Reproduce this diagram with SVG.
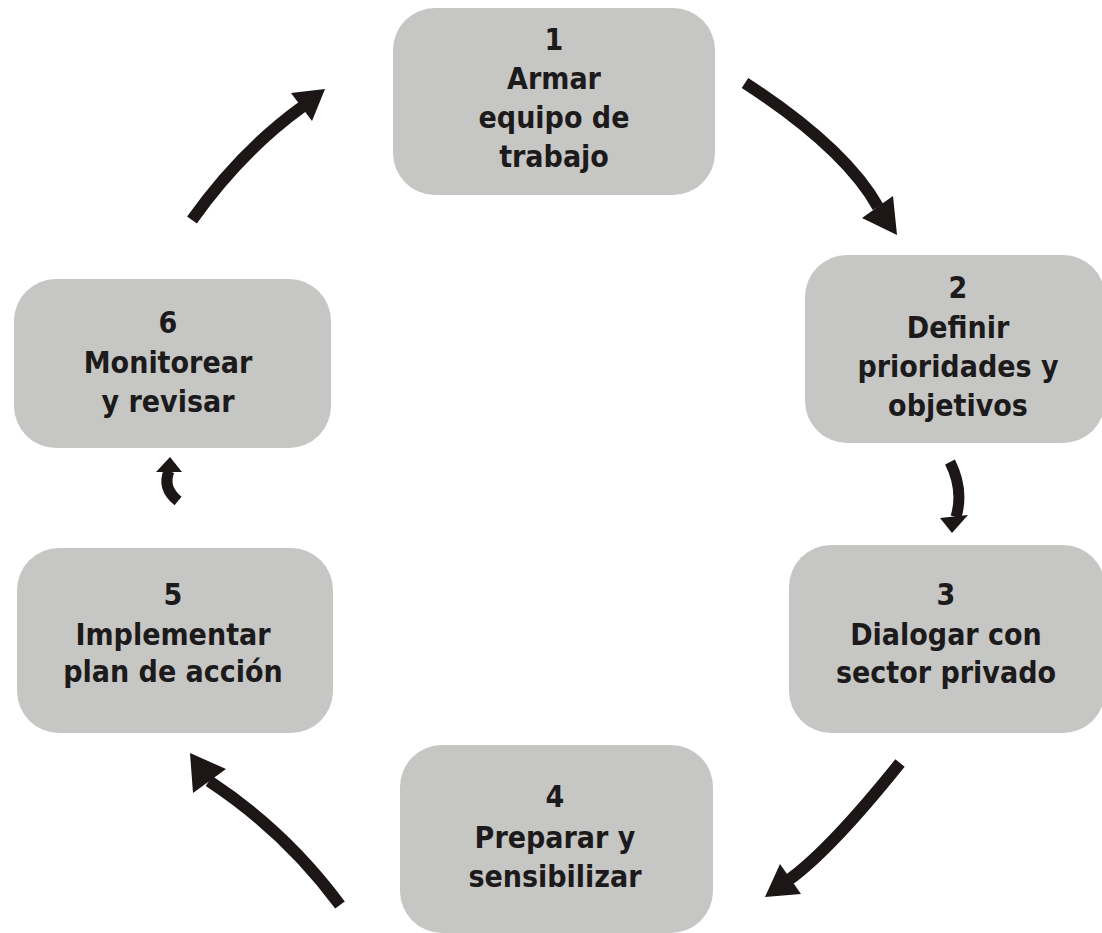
<svg xmlns="http://www.w3.org/2000/svg" width="1102" height="933" viewBox="0 0 1102 933">
<style>
.box{fill:#c6c6c4;}
.lbl{font-family:"DejaVu Sans Condensed","DejaVu Sans","Liberation Sans",sans-serif;font-weight:bold;font-size:30px;fill:#1c1a1a;text-anchor:middle;}
.arc{fill:none;stroke:#1c1616;stroke-width:12;stroke-linecap:butt;}
.arc.small{stroke-width:11;}
.head{fill:#1c1616;}
</style>
<rect width="1102" height="933" fill="#ffffff"/>
<g id="node1">
<rect class="box" x="393" y="8" width="322" height="187" rx="42"/>
<text class="lbl" x="554"><tspan x="554" y="50">1</tspan><tspan x="554" y="89">Armar</tspan><tspan x="554" y="128">equipo de</tspan><tspan x="554" y="167">trabajo</tspan></text>
</g>
<g id="node2">
<rect class="box" x="805" y="255" width="300" height="188" rx="42"/>
<text class="lbl" x="958"><tspan x="958" y="298">2</tspan><tspan x="958" y="338">Definir</tspan><tspan x="958" y="377">prioridades y</tspan><tspan x="958" y="416">objetivos</tspan></text>
</g>
<g id="node3">
<rect class="box" x="789" y="545" width="316" height="188" rx="42"/>
<text class="lbl" x="946"><tspan x="946" y="605">3</tspan><tspan x="946" y="645">Dialogar con</tspan><tspan x="946" y="683">sector privado</tspan></text>
</g>
<g id="node4">
<rect class="box" x="400" y="745" width="313" height="188" rx="42"/>
<text class="lbl" x="555"><tspan x="555" y="807">4</tspan><tspan x="555" y="848">Preparar y</tspan><tspan x="555" y="887">sensibilizar</tspan></text>
</g>
<g id="node5">
<rect class="box" x="17" y="548" width="316" height="185" rx="42"/>
<text class="lbl" x="173"><tspan x="173" y="605">5</tspan><tspan x="173" y="645">Implementar</tspan><tspan x="173" y="682">plan de acción</tspan></text>
</g>
<g id="node6">
<rect class="box" x="14" y="279" width="317" height="169" rx="42"/>
<text class="lbl" x="168"><tspan x="168" y="333">6</tspan><tspan x="168" y="373">Monitorear</tspan><tspan x="168" y="412">y revisar</tspan></text>
</g>
<g id="connectors">
<path class="arc" d="M745,83 Q845,148 878,207"/>
<polygon class="head" points="897,235 862,218 893,196"/>
<path class="arc small" d="M950,462 Q964,490 956,517"/>
<polygon class="head" points="952,533 940,518 968,515"/>
<path class="arc" d="M900,763 Q831,849 790,879"/>
<polygon class="head" points="765,897 780,864 801,894"/>
<path class="arc" d="M340,905 Q285,831 209,781"/>
<polygon class="head" points="190,753 226,769 193,793"/>
<path class="arc small" d="M178,501 Q162,488 169,471"/>
<polygon class="head" points="170,457 156,472 182,472"/>
<path class="arc" d="M192,220 Q240,152 302,107"/>
<polygon class="head" points="325,89 291,93 312,121"/>
</g>
</svg>
